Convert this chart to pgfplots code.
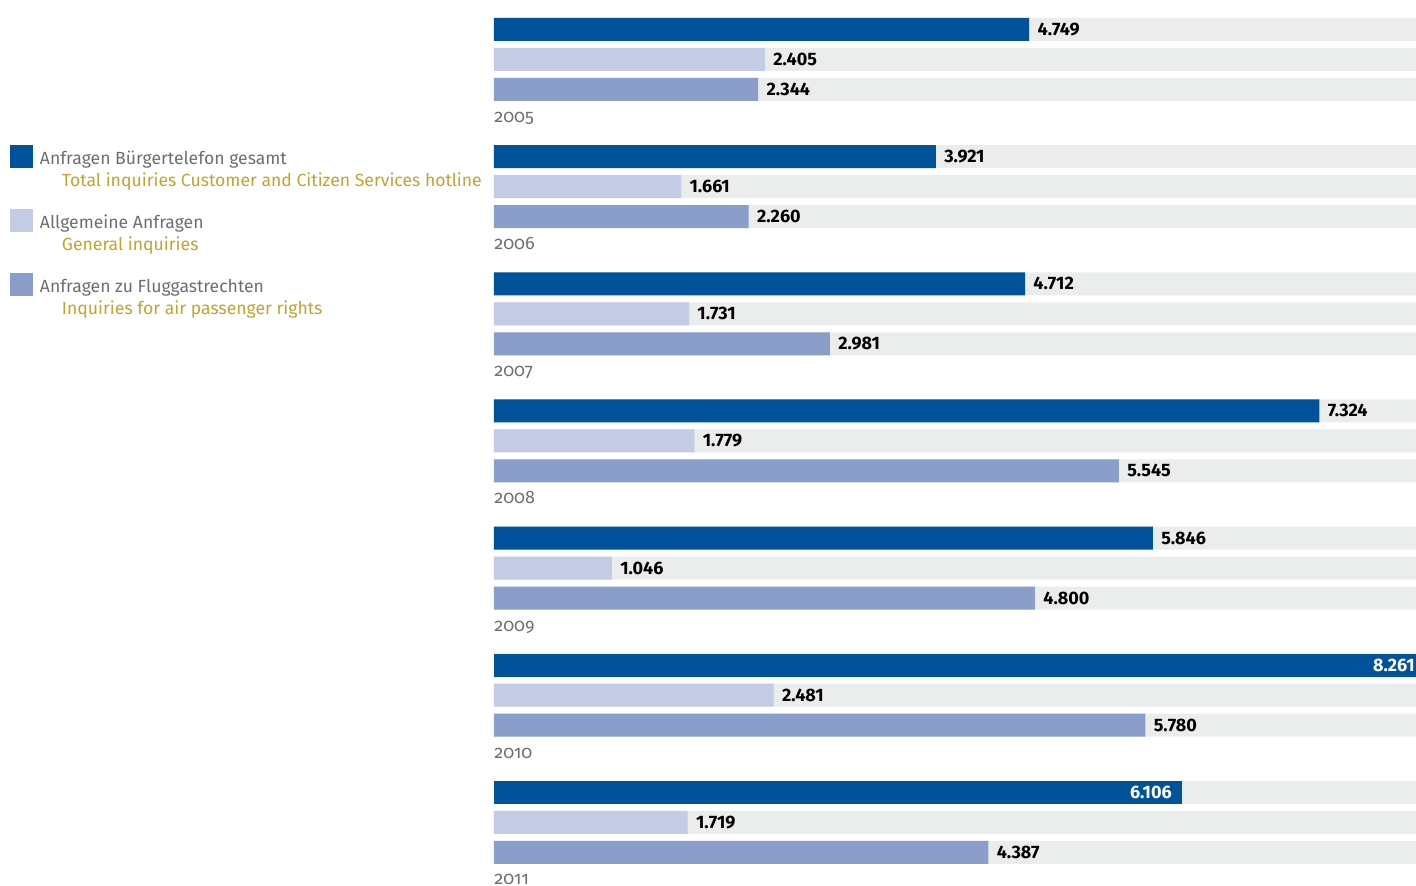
\documentclass[border=0pt]{standalone}
\usepackage{fontspec}
\setmainfont{Fira Sans}
\newfontfamily\yearfont[Numbers=OldStyle]{Fira Sans}
\usepackage{pgfplots}
\usepackage{pgfplotstable}
\pgfplotsset{compat=1.18}
\definecolor{cdark}{HTML}{00529B}
\definecolor{clight}{HTML}{C4CBE4}
\definecolor{cmid}{HTML}{8B9EC9}
\definecolor{cbg}{HTML}{EBECEC}
\definecolor{cgold}{HTML}{C4A22E}
\definecolor{ctext}{HTML}{6E6E6E}

\pgfplotstableread{
y x label
29.5 4749 4.749
156.6 3921 3.921
283.8 4712 4.712
410.9 7324 7.324
538.1 5846 5.846
}\totalout
\pgfplotstableread{
y x label
792.4 6106 6.106
}\totalin
\pgfplotstableread{
y x
665.2 8261
}\totalclip
\pgfplotstableread{
y x label
665.2 8181 8.261
}\totalcliplabel
\pgfplotstableread{
y x label
59.5 2405 2.405
186.6 1661 1.661
313.8 1731 1.731
440.9 1779 1.779
568.1 1046 1.046
695.2 2481 2.481
822.4 1719 1.719
}\general
\pgfplotstableread{
y x label
89.5 2344 2.344
216.6 2260 2.260
343.8 2981 2.981
470.9 5545 5.545
598.1 4800 4.800
725.2 5780 5.780
852.4 4387 4.387
}\air
\pgfplotstableread{
y x
29.5 9000
59.5 9000
89.5 9000
156.6 9000
186.6 9000
216.6 9000
283.8 9000
313.8 9000
343.8 9000
410.9 9000
440.9 9000
470.9 9000
538.1 9000
568.1 9000
598.1 9000
665.2 9000
695.2 9000
725.2 9000
792.4 9000
822.4 9000
852.4 9000
}\bg
\pgfplotstableread{
y x label
122.5 0 2005
249.6 0 2006
376.8 0 2007
503.9 0 2008
631.1 0 2009
758.2 0 2010
884.2 0 2011
}\years

\begin{document}
\begin{tikzpicture}
\begin{axis}[
  scale only axis,
  width=708pt, height=443pt,
  xmin=-4383, xmax=8181,
  ymin=0, ymax=886,
  y dir=reverse,
  axis line style={draw=none},
  xtick=\empty, ytick=\empty,
  major tick length=0pt,
  bar width=23,
  bar shift=0pt,
  legend style={
    at={(axis cs:-4295,145)}, anchor=north west,
    draw=none, fill=none, inner sep=0pt, outer sep=0pt,
    column sep=3.5pt, row sep=0pt,
    font=\fontsize{8.8}{11}\selectfont,
    text=ctext,
    nodes={inner sep=0pt, outer sep=0pt, text height=10pt, text depth=22pt, anchor=base west},
  },
  legend cell align=left,
  legend image code/.code={\fill[#1] (0pt,-1.5pt) rectangle (11.5pt,10pt);},
  nodes near coords style={font=\fontsize{9}{11}\selectfont\bfseries, text=black},
]
\addplot[xbar, fill=cbg, draw=none, forget plot] table[x=x, y=y] {\bg};

\addplot[xbar, fill=cdark, draw=none,
  point meta=explicit symbolic, nodes near coords,
  nodes near coords style={anchor=west, inner sep=4pt}]
  table[x=x, y=y, meta=label] {\totalout};
\addlegendentry{\begin{tabular}[t]{@{}l@{}}Anfragen Bürgertelefon gesamt\\\hspace{11pt}\textcolor{cgold}{Total inquiries Customer and Citizen Services hotline}\end{tabular}}

\addplot[xbar, fill=clight, draw=none,
  point meta=explicit symbolic, nodes near coords,
  nodes near coords style={anchor=west, inner sep=4pt}]
  table[x=x, y=y, meta=label] {\general};
\addlegendentry{\begin{tabular}[t]{@{}l@{}}Allgemeine Anfragen\\\hspace{11pt}\textcolor{cgold}{General inquiries}\end{tabular}}

\addplot[xbar, fill=cmid, draw=none,
  point meta=explicit symbolic, nodes near coords,
  nodes near coords style={anchor=west, inner sep=4pt}]
  table[x=x, y=y, meta=label] {\air};
\addlegendentry{\begin{tabular}[t]{@{}l@{}}Anfragen zu Fluggastrechten\\\hspace{11pt}\textcolor{cgold}{Inquiries for air passenger rights}\end{tabular}}

\addplot[xbar, fill=cdark, draw=none, forget plot,
  point meta=explicit symbolic, nodes near coords,
  nodes near coords style={anchor=east, inner sep=4pt, xshift=-1pt, text=white}]
  table[x=x, y=y, meta=label] {\totalin};

\addplot[xbar, fill=cdark, draw=none, forget plot] table[x=x, y=y] {\totalclip};

\addplot[draw=none, mark=none, forget plot,
  point meta=explicit symbolic, nodes near coords,
  nodes near coords style={anchor=east, inner sep=0.5pt, text=white}]
  table[x=x, y=y, meta=label] {\totalcliplabel};

\addplot[draw=none, mark=none, forget plot,
  point meta=explicit symbolic, nodes near coords,
  nodes near coords style={anchor=base west, inner sep=0pt, font=\yearfont\fontsize{9}{11}\selectfont, text=ctext}]
  table[x=x, y=y, meta=label] {\years};
\end{axis}
\end{tikzpicture}
\end{document}
